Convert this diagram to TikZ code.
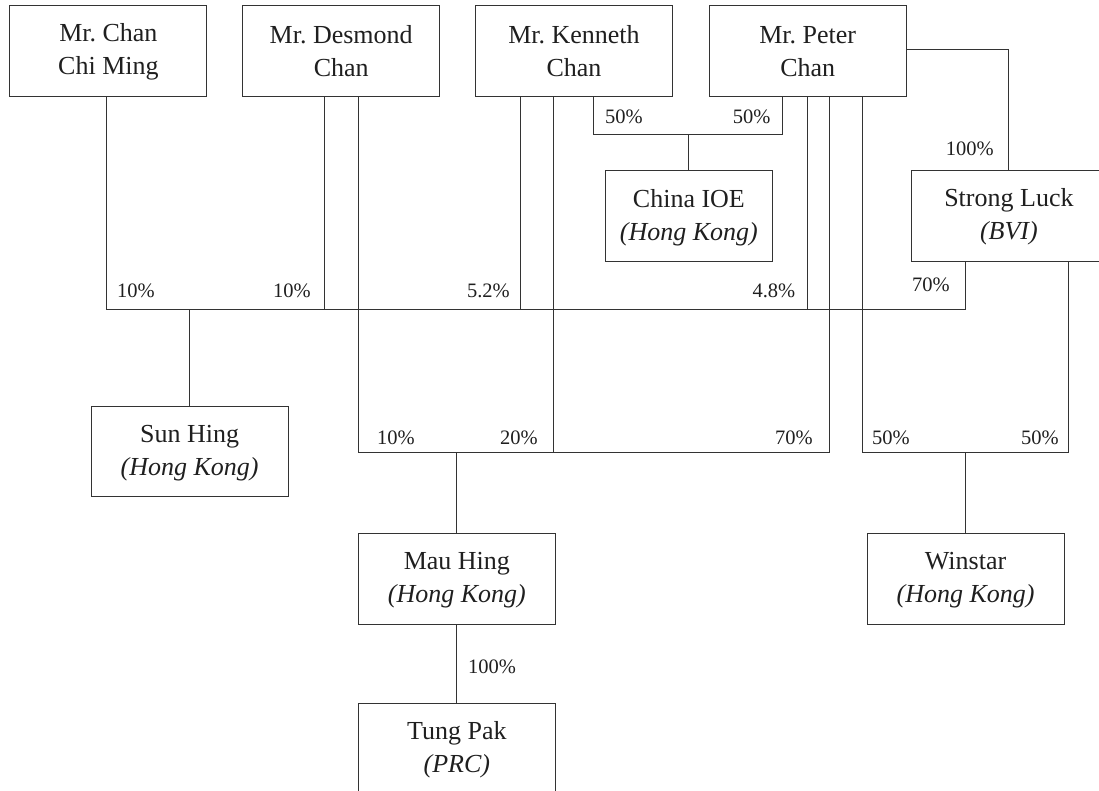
\documentclass[tikz,border=0pt]{standalone}
\usepackage{fontspec}
\setmainfont{Liberation Serif}
\frenchspacing
\newcommand{\twol}[2]{\rule{0pt}{20pt}#1\\#2\rule[-2.8pt]{0pt}{0pt}}
\begin{document}
\begin{tikzpicture}[x=1pt,y=-1pt,
  lines/.style={draw=black!80,line width=1pt},
  entity/.style={lines,text=black!88,minimum width=197pt,minimum height=91pt,inner sep=0pt,align=center,font=\fontsize{26}{33}\selectfont},
  pct/.style={inner sep=0pt,text=black!88,font=\fontsize{20.5}{24}\selectfont}]
\useasboundingbox (0,0) rectangle (1099,791);
\clip (0,0) rectangle (1099,791);
% boxes
\node[entity] (ccm) at (108.4,51.2) {\twol{Mr. Chan}{Chi Ming}};
\node[entity] (des) at (341.2,51.2) {\twol{Mr. Desmond}{Chan}};
\node[entity] (ken) at (574.0,51.2) {\twol{Mr. Kenneth}{Chan}};
\node[entity] (pet) at (807.7,51.2) {\twol{Mr. Peter}{Chan}};
\node[entity,minimum width=167pt] (ioe) at (688.9,216.5) {\twol{China IOE}{\textit{(Hong Kong)}}};
\node[entity,minimum width=194.3pt,minimum height=90.3pt] (slk) at (1008.9,216) {\twol{Strong Luck}{\textit{(BVI)}}};
\node[entity,minimum height=90.7pt] (sun) at (189.6,451.4) {\twol{Sun Hing}{\textit{(Hong Kong)}}};
\node[entity] (mau) at (456.9,579.2) {\twol{Mau Hing}{\textit{(Hong Kong)}}};
\node[entity] (win) at (965.6,579.0) {\twol{Winstar}{\textit{(Hong Kong)}}};
\node[entity] (tung) at (456.9,748.8) {\twol{Tung Pak}{\textit{(PRC)}}};
% junction coordinates
\coordinate (jSunL) at (106.3,309);
\coordinate (jSunR) at (965.6,309);
\coordinate (xDes1) at (324.4,309);
\coordinate (xKen1) at (520.5,309);
\coordinate (xPet1) at (807.8,309);
\coordinate (jMauL) at (358.5,452);
\coordinate (jMauR) at (829.7,452);
\coordinate (xKen2) at (553.5,452);
\coordinate (jWinL) at (862.2,452);
\coordinate (jWinR) at (1068.4,452);
\coordinate (jIoeL) at (593.8,134.3);
\coordinate (jIoeR) at (782.7,134.3);
\coordinate (jSlk) at (1008.5,49.3);
% connectors
\draw[lines] (ccm.south -| jSunL) -- (jSunL) -- (jSunR) -- (slk.south -| jSunR);
\draw[lines] (sun.north) -- (sun.north |- jSunL);
\draw[lines] (des.south -| xDes1) -- (xDes1);
\draw[lines] (ken.south -| xKen1) -- (xKen1);
\draw[lines] (pet.south -| xPet1) -- (xPet1);
\draw[lines] (des.south -| jMauL) -- (jMauL) -- (jMauR) -- (pet.south -| jMauR);
\draw[lines] (ken.south -| xKen2) -- (xKen2);
\draw[lines] (mau.north) -- (mau.north |- jMauL);
\draw[lines] (pet.south -| jWinL) -- (jWinL) -- (jWinR) -- (slk.south -| jWinR);
\draw[lines] (win.north) -- (win.north |- jWinL);
\draw[lines] (ken.south -| jIoeL) -- (jIoeL) -- (jIoeR) -- (pet.south -| jIoeR);
\draw[lines] (ioe.north) -- (ioe.north |- jIoeL);
\draw[lines] (pet.east |- jSlk) -- (jSlk) -- (slk.north -| jSlk);
\draw[lines] (mau.south) -- (tung.north);
% percentages
\node[pct,anchor=base west] (p1) at (117,298) {10\%};
\node[pct,anchor=base east] (p2) at (310.8,298) {10\%};
\node[pct,anchor=base east] (p3) at (510,298) {5.2\%};
\node[pct,anchor=base east] (p4) at (795.5,298) {4.8\%};
\node[pct,anchor=base west] (p5) at (912,291.7) {70\%};
\node[pct,anchor=base west] (p6) at (605,123.3) {50\%};
\node[pct,anchor=base east] (p7) at (770.7,123.3) {50\%};
\node[pct,anchor=base west] (p8) at (945.6,156) {100\%};
\node[pct,anchor=base west] (p9) at (377,444) {10\%};
\node[pct,anchor=base east] (p10) at (538,444) {20\%};
\node[pct,anchor=base east] (p11) at (813,444) {70\%};
\node[pct,anchor=base west] (p12) at (872,444) {50\%};
\node[pct,anchor=base east] (p13) at (1059,444) {50\%};
\node[pct,anchor=base west] (p14) at (468,673.3) {100\%};
\end{tikzpicture}
\end{document}
